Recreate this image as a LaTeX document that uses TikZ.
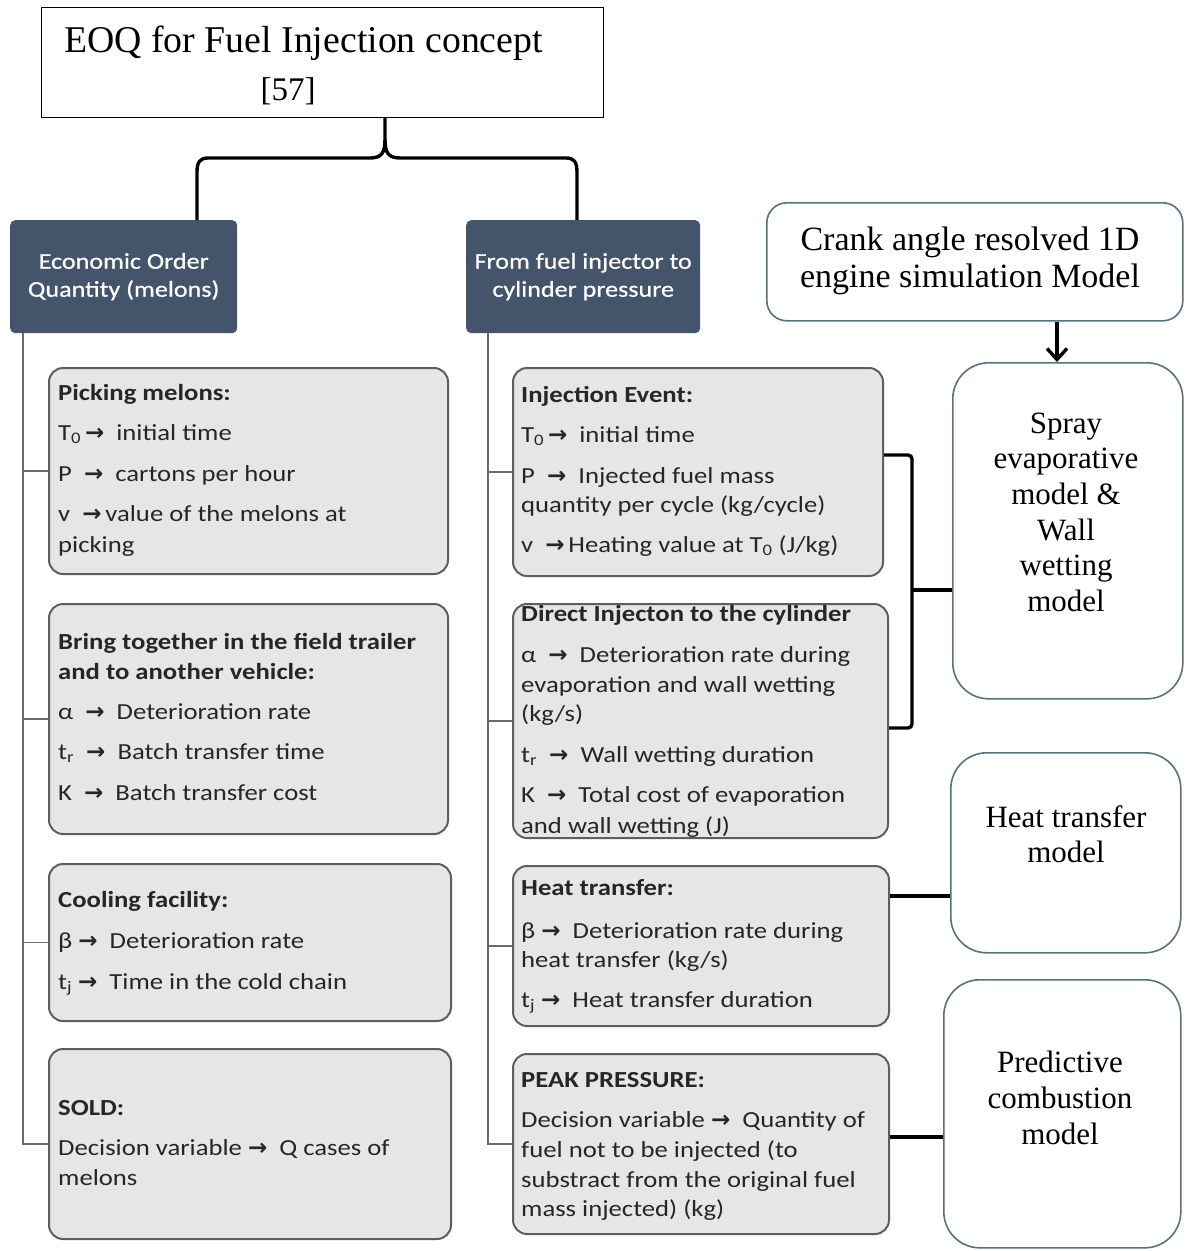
\documentclass[tikz,border=0pt]{standalone}
\usepackage{fontspec}
\setmainfont{Liberation Serif}
\newfontfamily\calfont[FakeStretch=1.16]{Carlito}
\newfontfamily\calsemi[FakeStretch=1.16,FakeBold=0.7]{Carlito}
\newfontfamily\arrowfont{DejaVu Sans}
\usetikzlibrary{arrows.meta}
\definecolor{darkbox}{HTML}{44546A}
\definecolor{gfill}{HTML}{E6E6E8}
\definecolor{gline}{HTML}{5E5E5E}
\definecolor{bline}{HTML}{56717F}
\definecolor{treec}{HTML}{6A6A6A}
\definecolor{txtc}{HTML}{262626}
\newcommand\rarr{{\arrowfont\bfseries →}}
\newcommand\boxlines[3]{%
  \foreach \yv/\tv [count=\i] in {#3} {\node[txt] (#1-\i) at (#2,\yv) {\tv};}}
\begin{document}
\begin{tikzpicture}[x=1pt,y=-1pt,
  gbox/.style={draw=gline, line width=2pt, fill=gfill, rounded corners=14pt, anchor=north west, inner sep=0pt},
  dbox/.style={fill=darkbox, rounded corners=5pt, anchor=north west, text=white, inner sep=0pt,
     font=\calsemi\fontsize{22.5}{28}\selectfont, align=center},
  wbox/.style={draw=bline, line width=1.6pt, anchor=north west, inner sep=0pt},
  tline/.style={draw=treec, line width=1.8pt},
  conn/.style={draw=black, line width=3.4pt},
  txt/.style={anchor=base west, inner sep=0pt, text=txtc, font=\calfont\fontsize{23}{26}\selectfont},
  serif/.style={anchor=base, inner sep=0pt, font=\fontsize{31}{36}\selectfont}
]
\useasboundingbox (0,0) rectangle (1187,1251);
\fill[white] (0,0) rectangle (1187,1251);

% title
\node[draw=black, line width=1.3pt, anchor=north west, minimum width=562pt, minimum height=110pt, inner sep=0pt] (title) at (41,7) {};
\node[anchor=base west, inner sep=0pt, font=\fontsize{37.8}{42}\selectfont] (title1) at (64,52) {EOQ for Fuel Injection concept};
\node[anchor=base, inner sep=0pt, font=\fontsize{33}{38}\selectfont] (title2) at (288,100) {[57]};

% dark headers
\node[dbox, minimum width=227pt, minimum height=113pt] (dl) at (10,220) {Economic Order\\Quantity (melons)};
\node[dbox, minimum width=234pt, minimum height=113pt] (dr) at (466,220) {From fuel injector to\\cylinder pressure};

% brace
\coordinate (tip) at (385,117);
\draw[conn, line join=round] (tip) -- (385,140) .. controls (385,152) and (382,158) .. (370,158)
   -- (208,158) .. controls (200,158) and (197,162) .. (197,172) -- (dl.north -| 197,0);
\draw[conn, line join=round] (385,140) .. controls (385,152) and (388,158) .. (400,158)
   -- (566,158) .. controls (574,158) and (577,162) .. (577,172) -- (dr.north -| 577,0);

% left column boxes
\node[gbox, minimum width=399pt, minimum height=206pt] (b1) at (48,367) {};
\node[gbox, minimum width=399pt, minimum height=230pt] (b2) at (48,603) {};
\node[gbox, minimum width=402pt, minimum height=157pt] (b3) at (48,863) {};
\node[gbox, minimum width=402pt, minimum height=190pt] (b4) at (48,1048) {};

% right column boxes
\node[gbox, minimum width=370pt, minimum height=208pt] (r1) at (512,367) {};
\node[gbox, minimum width=375pt, minimum height=234pt] (r2) at (512,603) {};
\node[gbox, minimum width=376pt, minimum height=160pt] (r3) at (512,865) {};
\node[gbox, minimum width=376pt, minimum height=180pt] (r4) at (512,1053) {};

% tree lines
\draw[tline] (dl.south -| 23,0) |- (b4.west);
\draw[tline] (b1.west -| 23,0) -- (b1.west);
\draw[tline] (b2.west -| 23,0) -- (b2.west);
\draw[tline] (b3.west -| 23,0) -- (b3.west);
\draw[tline] (dr.south -| 488,0) |- (r4.west);
\draw[tline] (r1.west -| 488,0) -- (r1.west);
\draw[tline] (r2.west -| 488,0) -- (r2.west);
\draw[tline] (r3.west -| 488,0) -- (r3.west);

% texts left
\boxlines{b1t}{58}{400/{\textbf{Picking melons:}},
  440/{T\textsubscript{0}\,\rarr\ \ initial time},
  481/{P \ \rarr\ \ cartons per hour},
  521/{v \ \rarr\,value of the melons at},
  552/{picking}}
\boxlines{b2t}{58}{649/{\textbf{Bring together in the field trailer}},
  679/{\textbf{and to another vehicle:}},
  719/{α \ \rarr\ \ Deterioration rate},
  759/{t\textsubscript{r} \ \rarr\ \ Batch transfer time},
  800/{K \ \rarr\ \ Batch transfer cost}}
\boxlines{b3t}{58}{907/{\textbf{Cooling facility:}},
  948/{β \rarr\ \ Deterioration rate},
  989/{t\textsubscript{j} \rarr\ \ Time in the cold chain}}
\boxlines{b4t}{58}{1115/{\textbf{SOLD:}},
  1155/{Decision variable \rarr\ \ Q cases of},
  1185/{melons}}

% texts right
\boxlines{r1t}{521}{402/{\textbf{Injection Event:}},
  442/{T\textsubscript{0}\,\rarr\ \ initial time},
  483/{P \ \rarr\ \ Injected fuel mass},
  512/{quantity per cycle (kg/cycle)},
  552/{v \ \rarr\,Heating value at T\textsubscript{0} (J/kg)}}
\boxlines{r2t}{521}{621/{\textbf{Direct Injecton to the cylinder}},
  662/{α \ \rarr\ \ Deterioration rate during},
  692/{evaporation and wall wetting},
  721/{(kg/s)},
  762/{t\textsubscript{r} \ \rarr\ \ Wall wetting duration},
  802/{K \ \rarr\ \ Total cost of evaporation},
  833/{and wall wetting (J)}}
\boxlines{r3t}{521}{895/{\textbf{Heat transfer:}},
  938/{β \rarr\ \ Deterioration rate during},
  967/{heat transfer (kg/s)},
  1007/{t\textsubscript{j} \rarr\ \ Heat transfer duration}}
\boxlines{r4t}{521}{1087/{\textbf{PEAK PRESSURE:}},
  1127/{Decision variable \rarr\ \ Quantity of},
  1157/{fuel not to be injected (to},
  1187/{substract from the original fuel},
  1216/{mass injected) (kg)}}

% right white boxes
\node[wbox, rounded corners=20pt, minimum width=416pt, minimum height=118pt] (crank) at (766,202) {};
\node[wbox, rounded corners=36pt, minimum width=230pt, minimum height=336pt] (spray) at (952,362) {};
\node[wbox, rounded corners=36pt, minimum width=230pt, minimum height=200pt] (htm) at (950,752) {};
\node[wbox, rounded corners=36pt, minimum width=237pt, minimum height=268pt] (pcm) at (943,979) {};

\node[serif, font=\fontsize{34}{38}\selectfont] (crank1) at (970,250) {Crank angle resolved 1D};
\node[serif, font=\fontsize{34}{38}\selectfont] (crank2) at (970,287) {engine simulation Model};
\foreach \yv/\tv [count=\i] in {433/Spray,468.6/evaporative,504/{model \&},540/Wall,575/wetting,611/model}
  {\node[serif] (sp-\i) at (1066,\yv) {\tv};}
\node[serif] (ht1) at (1066,827) {Heat transfer};
\node[serif] (ht2) at (1066,862) {model};
\node[serif] (pc1) at (1060,1072) {Predictive};
\node[serif] (pc2) at (1060,1108) {combustion};
\node[serif] (pc3) at (1060,1144) {model};

% connectors on right
\draw[conn, -{Straight Barb[length=11pt,width=20pt,line width=3.4pt]}] (crank.south -| 1057,0) -- (spray.north -| 1057,0);
\draw[conn, rounded corners=4pt] (r1.east |- 0,455) -- (912,455) -- (912,728) -- (r2.east |- 0,728);
\draw[conn] (912,590) -- (spray.west |- 0,590);
\draw[conn] (r3.east |- 0,896) -- (htm.west |- 0,896);
\draw[conn] (r4.east |- 0,1137) -- (pcm.west |- 0,1137);
\end{tikzpicture}
\end{document}
